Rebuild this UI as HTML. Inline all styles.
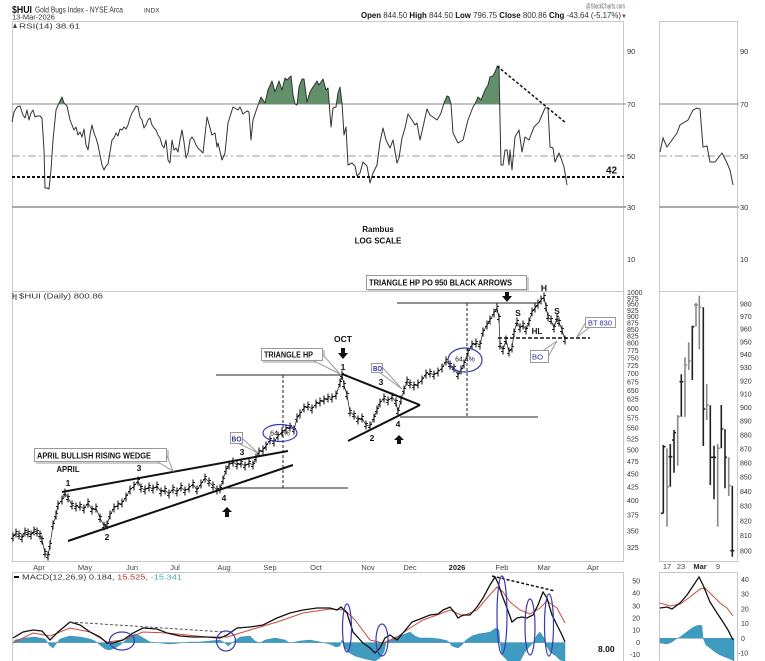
<!DOCTYPE html>
<html><head><meta charset="utf-8"><style>html,body{margin:0;padding:0;background:#fff;overflow:hidden}svg{display:block}</style></head><body>
<svg width="765" height="661" viewBox="0 0 765 661" xmlns="http://www.w3.org/2000/svg" font-family="'Liberation Sans', Arial, sans-serif">
<defs>
<marker id="bar" markerWidth="6" markerHeight="11" refX="3" refY="5.5" orient="0" markerUnits="userSpaceOnUse"><path d="M3 1V10M1 7H3M3 4H5" stroke="#1a1a1a" stroke-width="1.1" fill="none"/></marker>
<clipPath id="above70"><rect x="12" y="21" width="612" height="83"/></clipPath>
</defs>
<rect width="765" height="661" fill="#fff"/>

<!-- header -->
<text x="12" y="13" font-size="10.5" font-weight="bold" fill="#111" textLength="20" lengthAdjust="spacingAndGlyphs">$HUI</text>
<text x="35" y="12.5" font-size="8" fill="#333" textLength="88" lengthAdjust="spacingAndGlyphs">Gold Bugs Index - NYSE Arca</text>
<text x="144" y="12.5" font-size="6.5" fill="#333">INDX</text>
<text x="12" y="19.5" font-size="7.5" fill="#333" textLength="43" lengthAdjust="spacingAndGlyphs">13-Mar-2026</text>
<text x="586" y="8.5" font-size="7" fill="#666" textLength="39" lengthAdjust="spacingAndGlyphs">@StockCharts.com</text>
<text x="361" y="18" font-size="8" fill="#333" textLength="260" lengthAdjust="spacingAndGlyphs"><tspan font-weight="bold" fill="#111">Open</tspan> 844.50 <tspan font-weight="bold" fill="#111">High</tspan> 844.50 <tspan font-weight="bold" fill="#111">Low</tspan> 796.75 <tspan font-weight="bold" fill="#111">Close</tspan> 800.86 <tspan font-weight="bold" fill="#111">Chg</tspan> -43.64 (-5.17%)</text>
<text x="621" y="18" font-size="6" fill="#a0305a">▼</text>

<!-- panel borders -->
<g fill="none" stroke="#c8c8c8" stroke-width="1">
<rect x="12.5" y="21.5" width="611" height="270"/>
<rect x="12.5" y="291.5" width="611" height="270"/>
<rect x="12.5" y="572.5" width="611" height="95"/>
<rect x="659.5" y="21.5" width="78" height="270"/>
<rect x="659.5" y="291.5" width="78" height="270"/>
<rect x="659.5" y="572.5" width="78" height="95"/>
</g>

<!-- RSI panel -->
<g font-size="7.5" fill="#333">
<text x="19" y="28.5" textLength="61" lengthAdjust="spacingAndGlyphs">RSI(14) 38.61</text>
<path d="M13 28L15 23L17 28Z" fill="#444"/>
<text x="627" y="54">90</text><text x="627" y="107">70</text><text x="627" y="159">50</text><text x="627" y="210">30</text><text x="627" y="262">10</text>
<text x="740" y="54">90</text><text x="740" y="107">70</text><text x="740" y="159">50</text><text x="740" y="210">30</text><text x="740" y="262">10</text>
</g>
<line x1="12" y1="104" x2="626" y2="104" stroke="#888" stroke-width="1"/>
<line x1="659" y1="104" x2="739" y2="104" stroke="#888" stroke-width="1"/>
<line x1="12" y1="156" x2="624" y2="156" stroke="#999" stroke-width="1" stroke-dasharray="8 3 2 3"/>
<line x1="659" y1="156" x2="737" y2="156" stroke="#999" stroke-width="1" stroke-dasharray="8 3 2 3"/>
<line x1="12" y1="207" x2="626" y2="207" stroke="#aaa" stroke-width="2"/>
<line x1="659" y1="207" x2="739" y2="207" stroke="#aaa" stroke-width="2"/>

<polygon clip-path="url(#above70)" fill="#62906a" stroke="none" points="12,122 14,112 17,107 20,106 23,115 25,118 27,110 29,120 31,113 33,110 35,117 37,116 40,116 42,118 44,150 45,188 47,188 49,189 51,170 53,140 56,110 59,103 62,97 64,103 67,106 70,120 72,125 74,130 76,127 78,135 80,132 82,137 84,129 86,145 88,150 90,135 92,125 94,133 96,138 98,145 100,155 102,165 104,170 106,166 108,164 110,152 112,140 114,138 116,133 118,136 120,129 122,130 124,127 126,129 128,125 130,118 132,113 134,110 136,106 138,107 140,117 142,120 144,128 146,125 148,120 150,118 152,125 154,128 156,130 158,135 160,138 162,145 164,148 166,140 168,160 170,163 172,140 174,150 176,148 178,152 180,140 182,130 184,142 186,158 188,153 190,140 192,137 194,140 196,145 198,148 200,150 203,153 207,117 212,135 215,133 217,147 218,143 222,160 225,153 228,123 233,107 238,110 240,107 243,114 247,111 249,112 251,140 253,120 257,108 261,97 265,103 268,90 272,81 275,92 279,81 282,90 285,78 287,80 291,76 293,95 295,104 297,105 299,87 302,79 304,79 307,102 310,92 313,87 317,81 319,85 323,79 326,90 328,88 331,127 333,108 336,107 338,93 340,87 342,103 344,135 346,127 348,165 352,163 355,166 357,176 360,173 363,162 367,166 370,183 373,173 377,165 380,142 383,128 386,140 390,148 393,140 397,163 399,158 402,138 405,128 408,114 412,120 415,125 417,123 420,140 423,127 427,109 430,115 433,117 437,120 440,115 441,113 444,103 447,96 449,97 451,104 453,133 458,143 463,140 468,120 473,107 475,104 478,97 481,100 485,90 488,85 490,77 493,76 495,72 497,67 499,66 500,120 501,165 503,165 505,150 507,150 509,165 510,150 512,170 515,137 519,130 522,152 525,137 529,140 534,127 539,122 545,108 548,108 550,147 553,148 555,162 559,153 561,158 564,167 567,185 567,104 12,104"/>
<polyline fill="none" stroke="#333" stroke-width="1" stroke-linejoin="round" points="12,122 14,112 17,107 20,106 23,115 25,118 27,110 29,120 31,113 33,110 35,117 37,116 40,116 42,118 44,150 45,188 47,188 49,189 51,170 53,140 56,110 59,103 62,97 64,103 67,106 70,120 72,125 74,130 76,127 78,135 80,132 82,137 84,129 86,145 88,150 90,135 92,125 94,133 96,138 98,145 100,155 102,165 104,170 106,166 108,164 110,152 112,140 114,138 116,133 118,136 120,129 122,130 124,127 126,129 128,125 130,118 132,113 134,110 136,106 138,107 140,117 142,120 144,128 146,125 148,120 150,118 152,125 154,128 156,130 158,135 160,138 162,145 164,148 166,140 168,160 170,163 172,140 174,150 176,148 178,152 180,140 182,130 184,142 186,158 188,153 190,140 192,137 194,140 196,145 198,148 200,150 203,153 207,117 212,135 215,133 217,147 218,143 222,160 225,153 228,123 233,107 238,110 240,107 243,114 247,111 249,112 251,140 253,120 257,108 261,97 265,103 268,90 272,81 275,92 279,81 282,90 285,78 287,80 291,76 293,95 295,104 297,105 299,87 302,79 304,79 307,102 310,92 313,87 317,81 319,85 323,79 326,90 328,88 331,127 333,108 336,107 338,93 340,87 342,103 344,135 346,127 348,165 352,163 355,166 357,176 360,173 363,162 367,166 370,183 373,173 377,165 380,142 383,128 386,140 390,148 393,140 397,163 399,158 402,138 405,128 408,114 412,120 415,125 417,123 420,140 423,127 427,109 430,115 433,117 437,120 440,115 441,113 444,103 447,96 449,97 451,104 453,133 458,143 463,140 468,120 473,107 475,104 478,97 481,100 485,90 488,85 490,77 493,76 495,72 497,67 499,66 500,120 501,165 503,165 505,150 507,150 509,165 510,150 512,170 515,137 519,130 522,152 525,137 529,140 534,127 539,122 545,108 548,108 550,147 553,148 555,162 559,153 561,158 564,167 567,185"/>
<polyline fill="none" stroke="#333" stroke-width="1" points="660,152 663,138 667,147 672,140 677,133 680,125 683,123 688,120 693,110 697,108 700,109 703,147 707,146 710,162 715,162 722,153 727,163 730,170 733,185"/>
<line x1="12" y1="177" x2="624" y2="177" stroke="#111" stroke-width="2" stroke-dasharray="3 2"/>
<text x="606" y="173.5" font-size="10" font-weight="bold" fill="#111">42</text>
<line x1="497" y1="66" x2="566" y2="123" stroke="#111" stroke-width="1.5" stroke-dasharray="3 2"/>
<text x="378" y="232" font-size="8" font-weight="bold" fill="#111" text-anchor="middle">Rambus</text>
<text x="378" y="243.5" font-size="8" font-weight="bold" fill="#111" text-anchor="middle">LOG SCALE</text>

<!-- Price panel -->
<text x="19" y="298.5" font-size="7.5" fill="#333" textLength="84" lengthAdjust="spacingAndGlyphs">$HUI (Daily) 800.86</text>
<path d="M13 299V293M13 296H15M16 300V294" stroke="#444" stroke-width="1"/>
<g font-size="7" fill="#333">
<text x="627" y="295">1000</text><text x="627" y="300.8">975</text><text x="627" y="306.7">950</text><text x="627" y="312.8">925</text><text x="627" y="319">900</text><text x="627" y="325.4">875</text><text x="627" y="332">850</text><text x="627" y="338.7">825</text><text x="627" y="345.7">800</text><text x="627" y="352.9">775</text><text x="627" y="360.4">750</text><text x="627" y="368.1">725</text><text x="627" y="376">700</text><text x="627" y="384.3">675</text><text x="627" y="392.8">650</text><text x="627" y="401.7">625</text><text x="627" y="411">600</text><text x="627" y="420.7">575</text><text x="627" y="430.7">550</text><text x="627" y="441.3">525</text><text x="627" y="452.4">500</text><text x="627" y="464">475</text><text x="627" y="476.3">450</text><text x="627" y="489.3">425</text><text x="627" y="503">400</text><text x="627" y="517.6">375</text><text x="627" y="533.3">350</text><text x="627" y="550.1">325</text>
<text x="740" y="306.5">980</text><text x="740" y="319">970</text><text x="740" y="331.6">960</text><text x="740" y="344.3">950</text><text x="740" y="357.2">940</text><text x="740" y="370.2">930</text><text x="740" y="383.3">920</text><text x="740" y="396.6">910</text><text x="740" y="410.1">900</text><text x="740" y="423.6">890</text><text x="740" y="437.4">880</text><text x="740" y="451.3">870</text><text x="740" y="465.3">860</text><text x="740" y="479.6">850</text><text x="740" y="493.9">840</text><text x="740" y="508.5">830</text><text x="740" y="523.3">820</text><text x="740" y="538.2">810</text><text x="740" y="553.3">800</text>
</g>

<!-- month labels -->
<g font-size="7.5" fill="#444" text-anchor="middle">
<text x="39" y="570">Apr</text><text x="85" y="570">May</text><text x="132" y="570">Jun</text><text x="175" y="570">Jul</text><text x="224" y="570">Aug</text><text x="270" y="570">Sep</text><text x="316" y="570">Oct</text><text x="368" y="570">Nov</text><text x="410" y="570">Dec</text><text x="457" y="570" font-weight="bold" fill="#222">2026</text><text x="502" y="570">Feb</text><text x="544" y="570">Mar</text><text x="593" y="570">Apr</text>
<text x="667" y="569">17</text><text x="681" y="569">23</text><text x="700" y="569" font-weight="bold" fill="#222">Mar</text><text x="718" y="569">9</text>
</g>

<!-- price series -->
<polyline fill="none" stroke="#333" stroke-width="0.8" marker-start="url(#bar)" marker-mid="url(#bar)" marker-end="url(#bar)" points="13,537 16,533 19,535 22,538 25,532 28,533 31,535 34,531 37,532 40,535 42,540 45,553 48,556 50,545 53,525 56,515 58,505 62,500 65,493 68,498 72,505 76,507 80,506 84,509 88,503 92,510 96,508 100,518 104,526 107,525 110,515 114,508 118,505 122,503 126,497 130,490 134,486 138,481 141,488 145,490 149,487 153,489 157,486 161,492 165,490 169,494 173,489 177,492 181,487 185,491 189,488 193,484 197,490 201,484 205,478 209,482 213,486 217,490 220,489 223,480 226,470 229,465 233,462 237,465 241,463 245,466 249,463 253,465 256,458 259,452 263,450 266,446 270,440 274,442 278,436 282,432 286,429 290,427 294,430 297,418 300,414 304,408 308,406 312,409 316,404 320,402 324,400 328,398 332,398 336,395 340,383 342,375 344,385 347,395 350,412 354,415 358,420 362,418 366,425 370,426 374,418 377,410 380,403 384,398 388,401 392,397 396,402 398,412 401,400 404,390 407,381 410,384 414,386 418,384 422,380 426,374 430,373 434,375 438,372 442,368 446,361 450,365 454,368 458,375 461,370 464,364 468,352 472,345 476,343 480,345 483,332 487,325 490,320 494,313 497,308 499,318 500,345 503,350 506,340 509,352 512,348 514,333 517,322 520,328 523,325 526,330 529,322 532,312 535,308 538,304 541,300 544,297 546,307 548,317 551,320 554,328 557,318 559,322 562,330 565,340"/>

<!-- mini bars -->
<g stroke-width="1.6" fill="none">
<path stroke="#222" d="M663.3 445V513.3M661 513.3H663.3M663.3 446.7H665.5"/>
<path stroke="#888" d="M667 448.3V526.7M667 486.7H669"/>
<path stroke="#222" d="M670.3 444V486.7M670.3 456.7H672.3M668.5 456.7H670.3"/>
<path stroke="#222" d="M674 430V472.7M674 432.7H676M672 440H674"/>
<path stroke="#888" d="M677.7 415V465.7M677.7 416.7H679.7"/>
<path stroke="#222" d="M681.3 374.3V416.7M681.3 381.7H683.3M679.5 381.7H681.3"/>
<path stroke="#888" d="M685 357.3V416.7M685 365H687"/>
<path stroke="#888" d="M688.7 342.3V370M688.7 361H690.7"/>
<path stroke="#222" d="M692.3 325.7V380M692.3 326.7H694.3"/>
<path stroke="#888" d="M696 302.7V326.7M696 305H698M694 305H696"/>
<path stroke="#888" d="M699.3 295.7V349.3M699.3 307.3H701.3"/>
<path stroke="#222" d="M703.3 307.3V446M703.3 409H705.3"/>
<path stroke="#888" d="M706.7 384V420M706.7 405H708.7"/>
<path stroke="#222" d="M710.3 405.3V485M710.3 457.3H712.3"/>
<path stroke="#222" d="M714 445.7V499.3M714 457.3H716M712 457.3H714"/>
<path stroke="#888" d="M717.7 444V526.7M717.7 448.3H719.7"/>
<path stroke="#222" d="M721.3 405V448.3M721.3 429H723.3"/>
<path stroke="#222" d="M725 429.3V488.3M725 457.3H727"/>
<path stroke="#888" d="M728.7 457.3V496M728.7 485.7H730.7"/>
<path stroke="#222" d="M732.3 485.7V556.7M732.3 550.7H734.3M730.3 550.7H732.3"/>
</g>

<!-- annotation lines -->
<g stroke="#222" fill="none">
<line x1="216" y1="375" x2="347" y2="375" stroke-width="1"/>
<line x1="224" y1="488" x2="348" y2="488" stroke-width="1"/>
<line x1="400" y1="417" x2="538" y2="417" stroke-width="1"/>
<line x1="397" y1="303" x2="540" y2="303" stroke-width="1"/>
<line x1="283" y1="375" x2="283" y2="488" stroke-width="1" stroke-dasharray="3 2"/>
<line x1="467" y1="303" x2="467" y2="417" stroke-width="1" stroke-dasharray="3 2"/>
<line x1="498" y1="338" x2="590" y2="338" stroke="#111" stroke-width="1.6" stroke-dasharray="4 2"/>
<line x1="62" y1="492" x2="288" y2="451" stroke="#111" stroke-width="2"/>
<line x1="68" y1="541" x2="293" y2="465" stroke="#111" stroke-width="2"/>
<line x1="342" y1="374" x2="420" y2="405" stroke="#111" stroke-width="2"/>
<line x1="348" y1="441" x2="420" y2="405" stroke="#111" stroke-width="2"/>
</g>

<!-- arrows -->
<g fill="#111">
<path d="M341 348H345V353H348L343 359L338 353H341Z"/>
<path d="M505 291H509V296H512L507 302L502 296H505Z"/>
<path d="M227 507L232 512H229V517H225V512H222Z"/>
<path d="M399 435L404 440H401V444H397V440H394Z"/>
</g>

<!-- callout boxes -->
<g stroke="#999" stroke-width="1">
<rect x="368" y="277" width="161" height="15" fill="#ccc" stroke="none"/>
<rect x="366.5" y="275.5" width="160" height="14" fill="#fff"/>
<rect x="36" y="450" width="133" height="14" fill="#ccc" stroke="none"/>
<polygon points="158,462 167,456 173,471" fill="#fff"/>
<rect x="34.5" y="448.5" width="132" height="13" fill="#fff"/>
<rect x="263" y="350" width="62" height="13" fill="#ccc" stroke="none"/>
<polygon points="314,361 323,355 340,374" fill="#fff"/>
<rect x="261.5" y="348.5" width="61" height="12" fill="#fff"/>
<polygon points="238,443 243,439 258,453" fill="#fff"/>
<rect x="230.5" y="432.5" width="12" height="11" fill="#fff"/>
<polygon points="379,372 383,368 402,389" fill="#fff"/>
<rect x="371.5" y="363.5" width="11" height="9" fill="#fff"/>
<polygon points="544,350 549,355 557,341" fill="#fff"/>
<rect x="530.5" y="350.5" width="18" height="12" fill="#fff"/>
<polygon points="586,322 590,327 577,337" fill="#fff"/>
<rect x="585.5" y="317.5" width="30" height="10" fill="#fff"/>
</g>
<g font-weight="bold" font-size="8" fill="#111">
<text x="369" y="285.5" textLength="143" lengthAdjust="spacingAndGlyphs">TRIANGLE HP PO 950 BLACK ARROWS</text>
<text x="37" y="458.5" textLength="114" lengthAdjust="spacingAndGlyphs">APRIL BULLISH RISING WEDGE</text>
<text x="264" y="357.5" textLength="49" lengthAdjust="spacingAndGlyphs">TRIANGLE HP</text>
</g>
<g font-size="7.5" fill="#2b2ba6">
<text x="231.5" y="441.5" font-weight="bold" textLength="10" lengthAdjust="spacingAndGlyphs">BO</text>
<text x="373" y="371" font-weight="bold" textLength="9" lengthAdjust="spacingAndGlyphs">BO</text>
<text x="532" y="359.5" textLength="11" lengthAdjust="spacingAndGlyphs">BO</text>
<text x="588" y="325.5" font-size="7" textLength="24" lengthAdjust="spacingAndGlyphs">BT 830</text>
</g>

<!-- ellipses -->
<ellipse cx="280" cy="433" rx="17" ry="8.5" fill="none" stroke="#3a3ab0" stroke-width="1.2"/>
<text x="280" y="435.5" font-size="7" fill="#222" text-anchor="middle">64.4%</text>
<ellipse cx="465" cy="360" rx="17" ry="12" fill="none" stroke="#3a3ab0" stroke-width="1.2"/>
<text x="465" y="361.5" font-size="7" fill="#222" text-anchor="middle">64.4%</text>

<!-- labels -->
<g font-weight="bold" font-size="8.5" fill="#111" text-anchor="middle">
<text x="68" y="486">1</text><text x="107" y="540">2</text><text x="139" y="471">3</text><text x="224" y="501">4</text><text x="242" y="455">3</text>
<text x="343" y="370">1</text><text x="381" y="385">3</text><text x="372" y="441">2</text><text x="398" y="427">4</text>
<text x="343" y="342">OCT</text><text x="68" y="472" textLength="23" lengthAdjust="spacingAndGlyphs">APRIL</text>
<text x="544" y="291">H</text><text x="518" y="316">S</text><text x="557" y="314">S</text><text x="537" y="334" font-size="8">HL</text>
</g>

<!-- MACD panel -->
<line x1="14" y1="577" x2="19" y2="577" stroke="#111" stroke-width="2"/>
<text x="22" y="579.5" font-size="7.5" fill="#333" textLength="160" lengthAdjust="spacingAndGlyphs">MACD(12,26,9) 0.184, <tspan fill="#b03030">15.525</tspan>, <tspan fill="#4aa8a8">-15.341</tspan></text>
<g font-size="7" fill="#333" text-anchor="end">
<text x="640" y="583.5">50</text><text x="640" y="595.5">40</text><text x="640" y="608.5">30</text><text x="640" y="620.5">20</text><text x="640" y="632.5">10</text><text x="640" y="645">0</text><text x="640" y="657">-10</text>
</g>
<g font-size="7" fill="#333">
<text x="741" y="582">40</text><text x="741" y="596.5">30</text><text x="741" y="611.5">20</text><text x="741" y="626">10</text><text x="741" y="640.8">0</text><text x="738" y="655.5">-10</text>
</g>
<text x="598" y="652" font-size="8.5" font-weight="bold" fill="#111">8.00</text>

<polygon fill="#3f9cc0" stroke="#2a7fa2" stroke-width="0.4" points="13,643 15,640 25,638 35,637 45,639 50,646 53,648 56,644 60,639 70,636 80,637 90,639 95,641 100,645 105,649 110,650 115,648 120,645 125,641 130,636 135,634 140,636 145,639 150,642 160,643 170,644 180,643 190,642 200,642 210,641 220,640 225,643 228,646 232,643 240,637 250,636 255,641 260,643 265,640 275,638 285,640 290,643 300,641 310,640 320,642 330,644 336,647 340,646 342,640 344,646 348,652 355,656 362,658 370,660 375,661 380,658 384,652 386,643 390,640 395,637 400,636 405,634 410,632 415,636 420,638 430,638 440,639 448,641 452,646 458,648 462,645 466,640 472,636 478,634 485,633 490,632 496,628 499,630 500,642 502,655 508,661 520,661 525,652 530,646 533,643 537,635 540,632 544,638 546,645 550,652 556,656 560,660 565,661 565,642.6 13,642.6"/>
<polygon fill="#3f9cc0" stroke="#2a7fa2" stroke-width="0.4" points="660,643 667,644 672,642 676,639 680,637 684,634 688,631 692,628 696,626 700,625 702,626 703,638 706,645 710,648 715,652 720,655 725,657 730,659 734,661 734,638.3 660,638.3"/>

<polyline fill="none" stroke="#cc4a40" stroke-width="1" points="13,643 33,633 50,636 70,628 90,632 107,642 123,640 143,632 167,633 207,637 227,637 250,630 277,622 303,613 330,609 345,610 355,620 370,640 383,643 397,637 410,628 423,620 437,615 450,610 463,616 477,610 487,598 497,587 503,592 510,602 520,610 530,614 540,608 547,601 557,608 565,623"/>
<polyline fill="none" stroke="#111" stroke-width="1.3" points="13,638 23,632 33,630 42,631 50,640 58,632 70,622 80,625 90,632 100,637 107,643 113,643 123,640 133,633 143,628 157,629 167,633 180,636 193,637 207,637 220,638 227,635 237,628 250,627 263,625 277,618 290,613 303,610 317,608 330,608 337,610 341,607 347,613 353,632 363,643 370,648 375,653 380,648 385,638 390,635 397,640 403,633 412,622 420,619 430,615 438,614 443,610 450,607 455,613 458,618 463,615 470,615 477,607 483,598 490,585 495,577 498,583 502,595 507,608 512,622 517,618 522,617 527,618 533,615 538,605 543,592 547,598 552,615 557,625 562,635 565,642"/>
<polyline fill="none" stroke="#cc4a40" stroke-width="1" points="660,603 670,606 680,604 690,597 700,589 705,588 710,593 720,603 727,608 733,616"/>
<polyline fill="none" stroke="#111" stroke-width="1.3" points="660,608 667,607 672,609 680,603 687,595 695,583 699,577 703,585 710,602 717,613 723,622 728,630 733,640"/>

<line x1="70" y1="622" x2="225" y2="632" stroke="#555" stroke-width="1" stroke-dasharray="3 2"/>
<line x1="492" y1="576" x2="555" y2="591" stroke="#111" stroke-width="1.5" stroke-dasharray="3 2"/>
<g fill="none" stroke="#3a3ab0" stroke-width="1.2">
<ellipse cx="122" cy="641" rx="12.5" ry="9"/>
<ellipse cx="226" cy="641" rx="9.5" ry="10"/>
<ellipse cx="347" cy="628" rx="4.5" ry="24"/>
<ellipse cx="382" cy="640" rx="6" ry="16"/>
<ellipse cx="502" cy="615" rx="5" ry="39"/>
<ellipse cx="530" cy="627" rx="5" ry="28"/>
<ellipse cx="549" cy="625" rx="4.5" ry="31"/>
</g>
</svg>
</body></html>
